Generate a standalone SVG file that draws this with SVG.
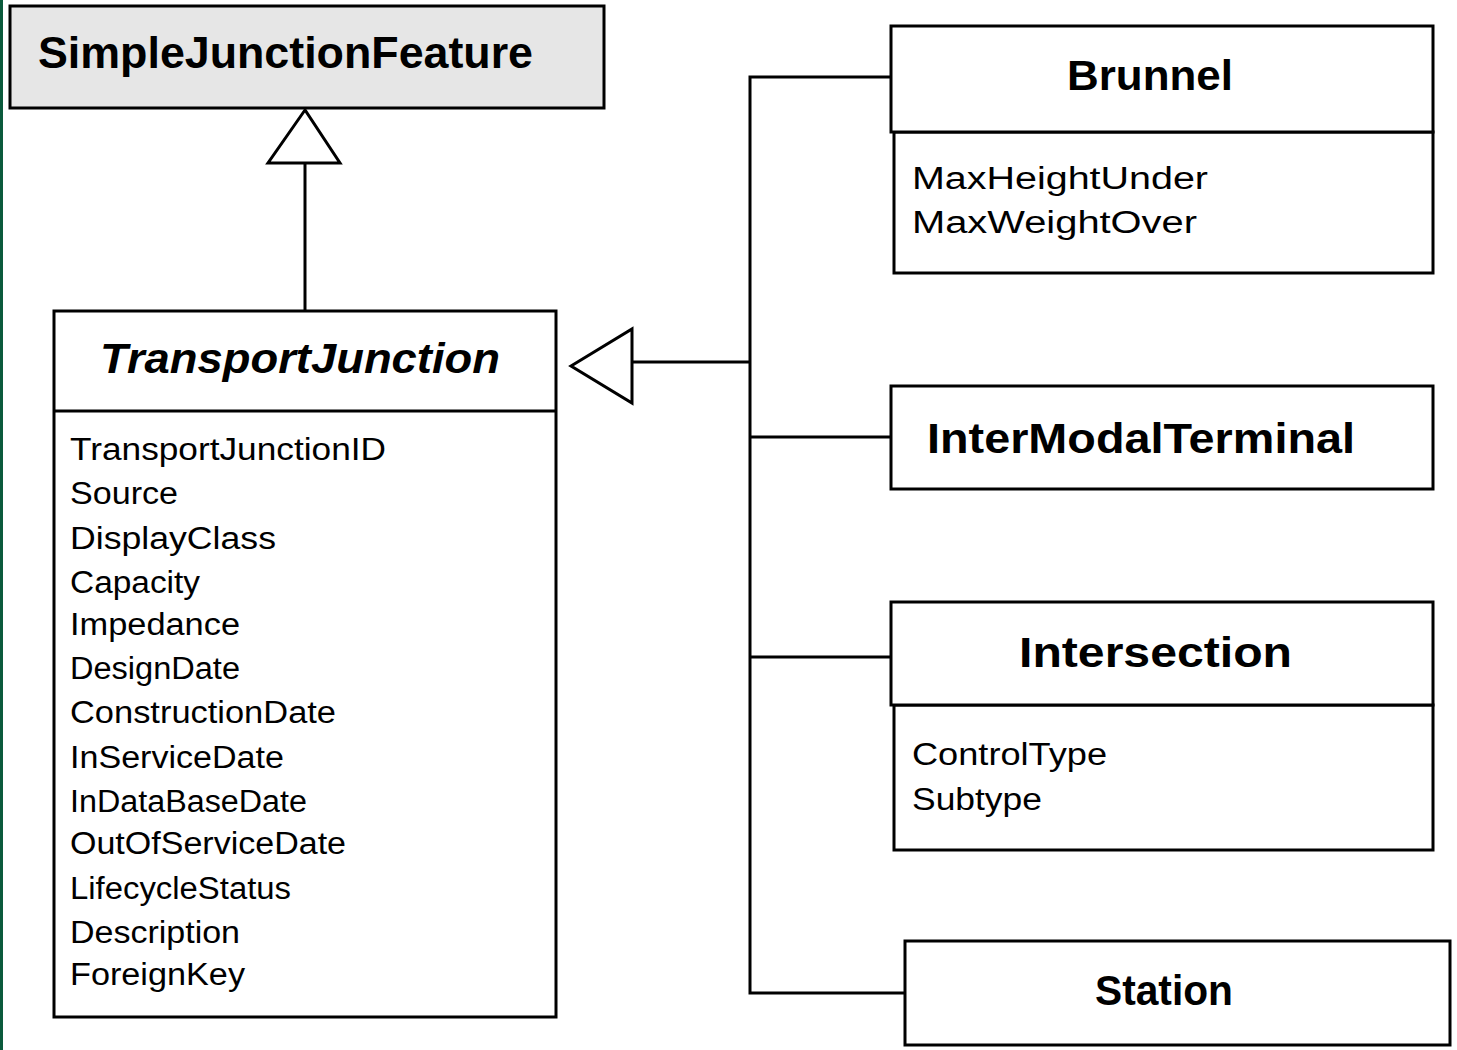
<svg xmlns="http://www.w3.org/2000/svg" width="1457" height="1050" viewBox="0 0 1457 1050">
<style>
.box{fill:#fff;stroke:#000;stroke-width:3}
.gray{fill:#e6e6e6;stroke:#000;stroke-width:3}
.ln{fill:none;stroke:#000;stroke-width:3}
.tri{fill:#fff;stroke:#000;stroke-width:3}
.title{font-family:"Liberation Sans",Arial,sans-serif;font-weight:bold;font-size:42px;fill:#000}
.attr{font-family:"Liberation Sans",Arial,sans-serif;font-size:31px;fill:#000}
</style>
<rect x="0" y="0" width="1457" height="1050" fill="#fff"/>
<rect x="0" y="0" width="3" height="1050" fill="#0b5a3c"/>
<g id="connectors">
<line class="ln" x1="305" y1="163" x2="305" y2="310"/>
<polygon class="tri" points="305,110 268,163 340,163"/>
<line class="ln" x1="632" y1="362" x2="750" y2="362"/>
<polygon class="tri" points="571,366 632,329 632,403"/>
<polyline class="ln" points="891,77 750,77 750,993 905,993"/>
<line class="ln" x1="750" y1="437" x2="891" y2="437"/>
<line class="ln" x1="750" y1="657" x2="891" y2="657"/>
</g>
<g id="SimpleJunctionFeature">
<rect class="gray" x="10" y="6" width="594" height="102"/>
<text class="title" x="38" y="68" textLength="495" lengthAdjust="spacingAndGlyphs" style="font-size:44px">SimpleJunctionFeature</text>
</g>
<g id="TransportJunction">
<rect class="box" x="54" y="311" width="502" height="706"/>
<line class="ln" x1="54" y1="411" x2="556" y2="411"/>
<text class="title" x="100" y="373" font-style="italic" textLength="400" lengthAdjust="spacingAndGlyphs">TransportJunction</text>
<text class="attr" x="70" y="460" textLength="316" lengthAdjust="spacingAndGlyphs">TransportJunctionID</text>
<text class="attr" x="70" y="504" textLength="108" lengthAdjust="spacingAndGlyphs">Source</text>
<text class="attr" x="70" y="549" textLength="206" lengthAdjust="spacingAndGlyphs">DisplayClass</text>
<text class="attr" x="70" y="593" textLength="130" lengthAdjust="spacingAndGlyphs">Capacity</text>
<text class="attr" x="70" y="635" textLength="170" lengthAdjust="spacingAndGlyphs">Impedance</text>
<text class="attr" x="70" y="679" textLength="170" lengthAdjust="spacingAndGlyphs">DesignDate</text>
<text class="attr" x="70" y="723" textLength="266" lengthAdjust="spacingAndGlyphs">ConstructionDate</text>
<text class="attr" x="70" y="768" textLength="214" lengthAdjust="spacingAndGlyphs">InServiceDate</text>
<text class="attr" x="70" y="812" textLength="237" lengthAdjust="spacingAndGlyphs">InDataBaseDate</text>
<text class="attr" x="70" y="854" textLength="276" lengthAdjust="spacingAndGlyphs">OutOfServiceDate</text>
<text class="attr" x="70" y="899" textLength="221" lengthAdjust="spacingAndGlyphs">LifecycleStatus</text>
<text class="attr" x="70" y="943" textLength="170" lengthAdjust="spacingAndGlyphs">Description</text>
<text class="attr" x="70" y="985" textLength="175" lengthAdjust="spacingAndGlyphs">ForeignKey</text>
</g>
<g id="Brunnel">
<rect class="box" x="894" y="132" width="539" height="141"/>
<rect class="box" x="891" y="26" width="542" height="106"/>
<text class="title" x="1067" y="90" textLength="166" lengthAdjust="spacingAndGlyphs">Brunnel</text>
<text class="attr" x="912" y="189" textLength="296" lengthAdjust="spacingAndGlyphs">MaxHeightUnder</text>
<text class="attr" x="912" y="233" textLength="285" lengthAdjust="spacingAndGlyphs">MaxWeightOver</text>
</g>
<g id="InterModalTerminal">
<rect class="box" x="891" y="386" width="542" height="103"/>
<text class="title" x="927" y="453" textLength="428" lengthAdjust="spacingAndGlyphs">InterModalTerminal</text>
</g>
<g id="Intersection">
<rect class="box" x="894" y="705" width="539" height="145"/>
<rect class="box" x="891" y="602" width="542" height="103"/>
<text class="title" x="1019" y="667" textLength="273" lengthAdjust="spacingAndGlyphs">Intersection</text>
<text class="attr" x="912" y="765" textLength="195" lengthAdjust="spacingAndGlyphs">ControlType</text>
<text class="attr" x="912" y="810" textLength="130" lengthAdjust="spacingAndGlyphs">Subtype</text>
</g>
<g id="Station">
<rect class="box" x="905" y="941" width="545" height="104"/>
<text class="title" x="1095" y="1005" textLength="138" lengthAdjust="spacingAndGlyphs">Station</text>
</g>
</svg>
